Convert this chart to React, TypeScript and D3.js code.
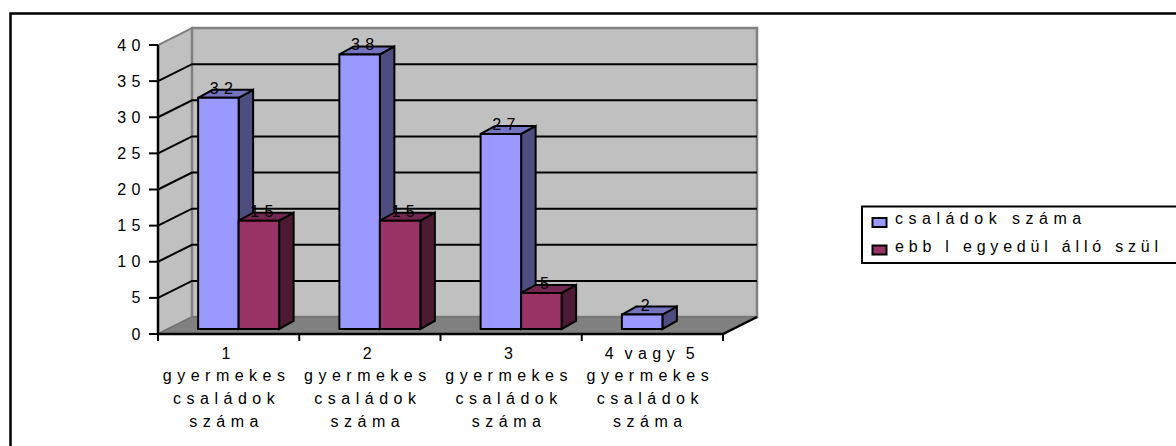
import * as d3 from "d3";
import { useEffect, useRef } from "react";

const categories = [
  ["1", "gyermekes", "családok", "száma"],
  ["2", "gyermekes", "családok", "száma"],
  ["3", "gyermekes", "családok", "száma"],
  ["4 vagy 5", "gyermekes", "családok", "száma"],
];
const familyCount = [32, 38, 27, 2];
const singleParent = [15, 15, 5, null];
const yTicks = [0, 5, 10, 15, 20, 25, 30, 35, 40];
const seriesNames = ["családok száma", "ebb l egyedül álló szül"];
const legendSpacing = [5.5, 4.8];

const SPACING = 5.5;
const FONT = "Liberation Sans, Arial, sans-serif";
const FONT_SIZE = 16;

export default function App() {
  const ref = useRef<SVGSVGElement | null>(null);

  useEffect(() => {
    const svg = d3.select(ref.current);
    svg.selectAll("*").remove();

    const depthX = 34;
    const depthY = -17;
    const y = d3.scaleLinear().domain([0, 40]).range([334, 45]);
    const x0 = d3.scaleBand<number>().domain(d3.range(4)).range([158, 723]);
    const barW = 40.5;
    const barDx = 14.5;
    const barDy = -8;
    const offX = 10;
    const offY = -5;

    const poly = (pts: number[][], fill: string, stroke = "#000", sw = 2) =>
      svg.append("polygon")
        .attr("points", pts.map((p) => p.join(",")).join(" "))
        .attr("fill", fill)
        .attr("stroke", stroke)
        .attr("stroke-width", sw);

    const label = (x: number, yy: number, txt: string | number, anchor = "middle", spacing = SPACING) =>
      svg.append("text")
        .attr("x", x)
        .attr("y", yy)
        .attr("text-anchor", anchor)
        .attr("font-family", FONT)
        .attr("font-size", FONT_SIZE)
        .attr("letter-spacing", spacing)
        .attr("fill", "#000")
        .text(txt);

    // outer frame
    svg.append("path").attr("d", "M10.5,446V13.5H1176")
      .attr("fill", "none").attr("stroke", "#000").attr("stroke-width", 2.5);

    // walls and floor
    const x1 = x0.range()[0];
    const x2 = x0.range()[1];
    poly([[x1, y(0)], [x1 + depthX, y(0) + depthY], [x1 + depthX, y(40) + depthY], [x1, y(40)]], "#c0c0c0", "#808080", 2);
    poly([[x1 + depthX, y(0) + depthY], [x2 + depthX, y(0) + depthY], [x2 + depthX, y(40) + depthY], [x1 + depthX, y(40) + depthY]], "#c0c0c0", "#808080", 2.5);
    poly([[x1, y(0)], [x2, y(0)], [x2 + depthX, y(0) + depthY], [x1 + depthX, y(0) + depthY]], "#808080", "#6e6e6e", 1);

    // gridlines
    yTicks.slice(1, -1).forEach((t) => {
      svg.append("path")
        .attr("d", `M${x1},${y(t)}L${x1 + depthX},${y(t) + depthY}L${x2 + depthX},${y(t) + depthY}`)
        .attr("fill", "none").attr("stroke", "#000").attr("stroke-width", 2);
    });

    // bars
    const barLeft = (i: number, s: number) =>
      x0(i)! + (x0.bandwidth() - 2 * barW) / 2 + offX + s * barW;
    const drawBar = (i: number, s: number, v: number, front: string, top: string, side: string) => {
      const left = barLeft(i, s);
      const right = left + barW;
      const b = y(0) + offY;
      const t = y(v) + offY;
      poly([[right, b], [right + barDx, b + barDy], [right + barDx, t + barDy], [right, t]], side);
      poly([[left, t], [right, t], [right + barDx, t + barDy], [left + barDx, t + barDy]], top);
      poly([[left, b], [right, b], [right, t], [left, t]], front);
    };
    const barLabel = (i: number, s: number, v: number) => {
      label(barLeft(i, s) + barW / 2 + barDx / 2 - 1.5, y(v) + offY - 4, v);
    };
    categories.forEach((_, i) => {
      drawBar(i, 0, familyCount[i], "#9999ff", "#7373bf", "#4d4d80");
      if (singleParent[i] !== null) drawBar(i, 1, singleParent[i] as number, "#993366", "#732650", "#4d1a33");
    });
    categories.forEach((_, i) => {
      barLabel(i, 0, familyCount[i]);
      if (singleParent[i] !== null) barLabel(i, 1, singleParent[i] as number);
    });

    // axes lines
    svg.append("path").attr("d", `M${x1},${y(40)}V${y(0)}H${x2}L${x2 + depthX},${y(0) + depthY}`)
      .attr("fill", "none").attr("stroke", "#000").attr("stroke-width", 2.5);

    yTicks.forEach((t) => {
      svg.append("line").attr("x1", x1 - 9).attr("x2", x1).attr("y1", y(t)).attr("y2", y(t))
        .attr("stroke", "#000").attr("stroke-width", 2);
      label(146, y(t) + 5.5, t, "end");
    });

    // category ticks and labels
    d3.range(5).forEach((i) => {
      const px = x1 + i * x0.step();
      svg.append("line").attr("x1", px).attr("x2", px).attr("y1", y(0)).attr("y2", y(0) + 7)
        .attr("stroke", "#000").attr("stroke-width", 2);
    });
    categories.forEach((lines, i) => {
      lines.forEach((line, k) => {
        label(x0(i)! + x0.bandwidth() / 2 - (k > 0 ? 2 : 0), 358.5 + k * 22.8, line)
          .attr("word-spacing", -4.5);
      });
    });

    // legend
    svg.append("path").attr("d", "M1176,206.5H862V263H1176")
      .attr("fill", "none").attr("stroke", "#000").attr("stroke-width", 2);
    seriesNames.forEach((name, i) => {
      const ly = 218 + i * 27.5;
      svg.append("rect").attr("x", 872.5).attr("y", ly).attr("width", 14).attr("height", 9)
        .attr("fill", i === 0 ? "#9999ff" : "#993366")
        .attr("stroke", "#000").attr("stroke-width", 2);
      label(895, 224 + i * 27.5, name, "start", legendSpacing[i]);
    });
  }, []);

  return <svg ref={ref} width={1176} height={446} style={{ position: "absolute", left: 0, top: 0 }} />;
}
